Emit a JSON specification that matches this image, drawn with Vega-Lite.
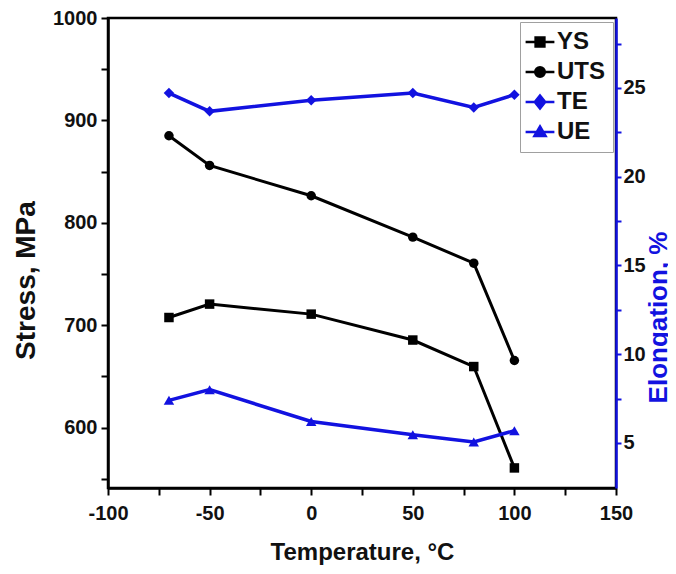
{
  "$schema": "https://vega.github.io/schema/vega-lite/v6.json",
  "width": 508,
  "height": 470,
  "autosize": {"type": "none"},
  "padding": {"left": 108, "top": 18, "right": 52, "bottom": 86},
  "background": "white",
  "config": {
    "font": "Liberation Sans",
    "view": {"stroke": "black", "strokeWidth": 2.5},
    "axis": {
      "labelFont": "Liberation Sans",
      "labelFontWeight": "bold",
      "labelFontSize": 20,
      "labelColor": "#111",
      "titleFont": "Liberation Sans",
      "titleFontWeight": "bold",
      "titleColor": "#111",
      "domainColor": "black",
      "domainWidth": 2.5,
      "tickColor": "black",
      "tickWidth": 2,
      "tickSize": 7,
      "grid": false
    },
    "legend": {
      "labelFont": "Liberation Sans",
      "labelFontWeight": "bold",
      "labelFontSize": 24,
      "labelColor": "#111"
    }
  },
  "data": {
    "values": [
      {"T": -70, "series": "YS", "stress": 707.5},
      {"T": -50, "series": "YS", "stress": 720.6},
      {"T": 0, "series": "YS", "stress": 710.8},
      {"T": 50, "series": "YS", "stress": 685.5},
      {"T": 80, "series": "YS", "stress": 659.6},
      {"T": 100, "series": "YS", "stress": 560.6},
      {"T": -70, "series": "UTS", "stress": 885},
      {"T": -50, "series": "UTS", "stress": 856},
      {"T": 0, "series": "UTS", "stress": 826.4},
      {"T": 50, "series": "UTS", "stress": 786},
      {"T": 80, "series": "UTS", "stress": 760.6},
      {"T": 100, "series": "UTS", "stress": 665.5},
      {"T": -70, "series": "TE", "elong": 24.71},
      {"T": -50, "series": "TE", "elong": 23.68},
      {"T": 0, "series": "TE", "elong": 24.3},
      {"T": 50, "series": "TE", "elong": 24.71},
      {"T": 80, "series": "TE", "elong": 23.9},
      {"T": 100, "series": "TE", "elong": 24.62},
      {"T": -70, "series": "UE", "elong": 7.4},
      {"T": -50, "series": "UE", "elong": 8.0},
      {"T": 0, "series": "UE", "elong": 6.21},
      {"T": 50, "series": "UE", "elong": 5.46},
      {"T": 80, "series": "UE", "elong": 5.05},
      {"T": 100, "series": "UE", "elong": 5.69}
    ]
  },
  "encoding": {
    "x": {
      "field": "T",
      "type": "quantitative",
      "scale": {"domain": [-100, 150], "nice": false, "zero": false},
      "axis": {
        "title": "Temperature, °C",
        "titleFontSize": 24,
        "titlePadding": 17,
        "values": [-100, -75, -50, -25, 0, 25, 50, 75, 100, 125, 150],
        "labelExpr": "datum.value % 50 === 0 ? '' + datum.value : ''",
        "labelPadding": 8,
        "labelFlush": false
      }
    }
  },
  "layer": [
    {
      "transform": [{"filter": "datum.series === 'YS' || datum.series === 'UTS'"}],
      "encoding": {
        "y": {
          "field": "stress",
          "type": "quantitative",
          "scale": {"domain": [541, 1000], "nice": false, "zero": false},
          "axis": {
            "orient": "left",
            "title": "Stress, MPa",
            "titleFontSize": 28,
            "titlePadding": 12,
            "titleY": 262,
            "values": [550, 600, 650, 700, 750, 800, 850, 900, 950, 1000],
            "labelExpr": "datum.value % 100 === 0 ? '' + datum.value : ''",
            "labelPadding": 4,
            "labelFlush": false
          }
        }
      },
      "layer": [
        {"mark": {"type": "line", "strokeWidth": 3, "color": "#000000"}, "encoding": {"detail": {"field": "series", "type": "nominal"}}},
        {
          "mark": {"type": "point", "filled": true, "opacity": 1, "size": 90, "color": "#000000"},
          "encoding": {"shape": {"field": "series", "type": "nominal", "scale": {"domain": ["YS", "UTS"], "range": ["square", "circle"]}, "legend": null}}
        }
      ]
    },
    {
      "transform": [{"filter": "datum.series === 'TE' || datum.series === 'UE'"}],
      "encoding": {
        "y": {
          "field": "elong",
          "type": "quantitative",
          "scale": {"domain": [2.46, 28.94], "nice": false, "zero": false},
          "axis": {
            "orient": "right",
            "title": "Elongation, %",
            "titleFontSize": 26,
            "titleColor": "#1212e0",
            "titleAngle": 270,
            "titleBaseline": "top",
            "titlePadding": 0,
            "titleY": 299,
            "domainColor": "#1212e0",
            "tickColor": "#1212e0",
            "tickSize": 5,
            "values": [5, 7.5, 10, 12.5, 15, 17.5, 20, 22.5, 25, 27.5],
            "labelExpr": "datum.value % 5 === 0 ? '' + datum.value : ''",
            "labelPadding": 2,
            "labelFlush": false
          }
        }
      },
      "layer": [
        {"mark": {"type": "line", "strokeWidth": 3.5, "color": "#1212e0"}, "encoding": {"detail": {"field": "series", "type": "nominal"}}},
        {
          "mark": {"type": "point", "filled": true, "opacity": 1, "size": 110, "color": "#1212e0"},
          "encoding": {"shape": {"field": "series", "type": "nominal", "scale": {"domain": ["TE", "UE"], "range": ["diamond", "triangle-up"]}, "legend": null}}
        }
      ]
    },
    {
      "transform": [{"filter": "datum.T > 1000"}],
      "mark": {"type": "point", "filled": true, "opacity": 1, "strokeWidth": 2.5},
      "encoding": {
        "color": {
          "field": "series",
          "type": "nominal",
          "scale": {"domain": ["YS", "UTS", "TE", "UE"], "range": ["#000000", "#000000", "#1212e0", "#1212e0"]},
          "legend": {
            "title": null,
            "orient": "none",
            "legendX": 412,
            "legendY": 4,
            "strokeColor": "#a0a0a0",
            "fillColor": "white",
            "padding": 8,
            "rowPadding": 6,
            "labelOffset": 5,
            "symbolSize": 256,
            "symbolStrokeWidth": 2.5
          }
        },
        "stroke": {
          "field": "series",
          "type": "nominal",
          "scale": {"domain": ["YS", "UTS", "TE", "UE"], "range": ["#000000", "#000000", "#1212e0", "#1212e0"]},
          "legend": {
            "title": null,
            "orient": "none",
            "legendX": 412,
            "legendY": 4,
            "strokeColor": "#a0a0a0",
            "fillColor": "white",
            "padding": 8,
            "rowPadding": 6,
            "labelOffset": 5,
            "symbolSize": 256,
            "symbolStrokeWidth": 2.5
          }
        },
        "shape": {
          "field": "series",
          "type": "nominal",
          "scale": {
            "domain": ["YS", "UTS", "TE", "UE"],
            "range": [
              "M-1.8,0H1.8M-0.55,-0.55H0.55V0.55H-0.55Z",
              "M-1.8,0H1.8M0.6,0A0.6,0.6 0 1,1 -0.6,0A0.6,0.6 0 1,1 0.6,0Z",
              "M-1.8,0H1.8M0,-0.8L0.65,0L0,0.8L-0.65,0Z",
              "M-1.8,0H1.8M0,-0.7L0.7,0.5L-0.7,0.5Z"
            ]
          },
          "legend": {
            "title": null,
            "orient": "none",
            "legendX": 412,
            "legendY": 4,
            "strokeColor": "#a0a0a0",
            "fillColor": "white",
            "padding": 8,
            "rowPadding": 6,
            "labelOffset": 5,
            "symbolSize": 256,
            "symbolStrokeWidth": 2.5
          }
        }
      }
    }
  ],
  "resolve": {"scale": {"y": "independent", "shape": "independent", "color": "independent", "stroke": "independent"}}
}
